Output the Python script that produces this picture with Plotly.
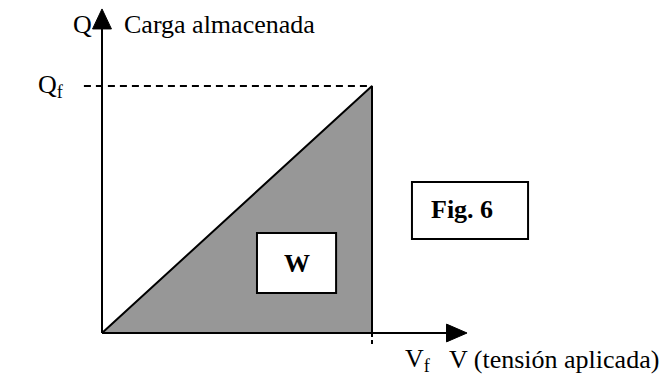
import plotly.graph_objects as go

# Data (normalized units: Vf = 1, Qf = 1)
V_f = 1.0
Q_f = 1.0
area_v = [0.0, V_f, V_f, 0.0]
area_q = [0.0, Q_f, 0.0, 0.0]
v_axis_end = 1.352
q_axis_end = 1.312
axis_labels = ["Q", "Carga almacenada", "Q<sub>f</sub>", "V<sub>f</sub>", "V (tensión aplicada)"]
box_labels = ["W", "Fig. 6"]

# arrow head geometry (data units)
y_head_len, y_head_half = 0.081, 0.035
x_head_len, x_head_half = 0.076, 0.036

FONT = "Liberation Serif, Times New Roman, serif"
fs = 26

fig = go.Figure()

# Shaded area W
fig.add_trace(go.Scatter(x=area_v, y=area_q, mode="lines", fill="toself",
                         fillcolor="#979797", line=dict(color="black", width=2),
                         hoverinfo="skip", showlegend=False))
# Axes
fig.add_trace(go.Scatter(x=[0, 0], y=[0, q_axis_end - y_head_len], mode="lines",
                         line=dict(color="black", width=2), showlegend=False, hoverinfo="skip"))
fig.add_trace(go.Scatter(x=[0, v_axis_end - x_head_len], y=[0, 0], mode="lines",
                         line=dict(color="black", width=2), showlegend=False, hoverinfo="skip"))
# Arrowheads
fig.add_trace(go.Scatter(
    x=[-y_head_half, y_head_half, 0, -y_head_half],
    y=[q_axis_end - y_head_len, q_axis_end - y_head_len, q_axis_end, q_axis_end - y_head_len],
    mode="lines", fill="toself", fillcolor="black", line=dict(color="black", width=1),
    showlegend=False, hoverinfo="skip"))
fig.add_trace(go.Scatter(
    x=[v_axis_end - x_head_len, v_axis_end - x_head_len, v_axis_end, v_axis_end - x_head_len],
    y=[-x_head_half, x_head_half, 0, -x_head_half],
    mode="lines", fill="toself", fillcolor="black", line=dict(color="black", width=1),
    showlegend=False, hoverinfo="skip"))
# Dashed guides
fig.add_trace(go.Scatter(x=[-0.067, V_f], y=[Q_f, Q_f], mode="lines",
                         line=dict(color="black", width=2, dash="7px,5px"),
                         showlegend=False, hoverinfo="skip"))
fig.add_trace(go.Scatter(x=[V_f, V_f], y=[0, -0.05], mode="lines",
                         line=dict(color="black", width=2, dash="4px,3px"),
                         showlegend=False, hoverinfo="skip"))

# Boxes
fig.add_shape(type="rect", x0=0.574, x1=0.867, y0=0.162, y1=0.405,
              line=dict(color="black", width=2), fillcolor="white")
fig.add_shape(type="rect", x0=1.148, x1=1.578, y0=0.381, y1=0.611,
              line=dict(color="black", width=2), fillcolor="white")

fig.add_annotation(x=0.7205, y=0.283, text="<b>" + box_labels[0] + "</b>", showarrow=False,
                   font=dict(family=FONT, size=fs, color="black"))
fig.add_annotation(x=1.335, y=0.50, text="<b>" + box_labels[1] + "</b>", showarrow=False,
                   font=dict(family=FONT, size=fs, color="black"))

# Axis labels
fig.add_annotation(x=-0.03, y=1.247, text=axis_labels[0], showarrow=False, xanchor="right",
                   font=dict(family=FONT, size=fs, color="black"))
fig.add_annotation(x=0.074, y=1.247, text=axis_labels[1], showarrow=False, xanchor="left",
                   font=dict(family=FONT, size=fs, color="black"))
fig.add_annotation(x=-0.245, y=1.0, text=axis_labels[2], showarrow=False, xanchor="left",
                   font=dict(family=FONT, size=fs, color="black"))
fig.add_annotation(x=1.115, y=-0.109, text=axis_labels[3], showarrow=False, xanchor="left",
                   font=dict(family=FONT, size=fs, color="black"))
fig.add_annotation(x=1.278, y=-0.109, text=axis_labels[4], showarrow=False, xanchor="left",
                   font=dict(family=FONT, size=fs, color="black"))

fig.update_layout(
    width=661, height=377,
    margin=dict(l=0, r=0, t=0, b=0),
    paper_bgcolor="white", plot_bgcolor="white",
    xaxis=dict(range=[-102 / 270, 559 / 270], visible=False, fixedrange=True),
    yaxis=dict(range=[-44 / 247, 333 / 247], visible=False, fixedrange=True),
    showlegend=False,
)

fig.write_html("out.html", config={"displayModeBar": False},
               post_script="document.body.style.margin='0';")
